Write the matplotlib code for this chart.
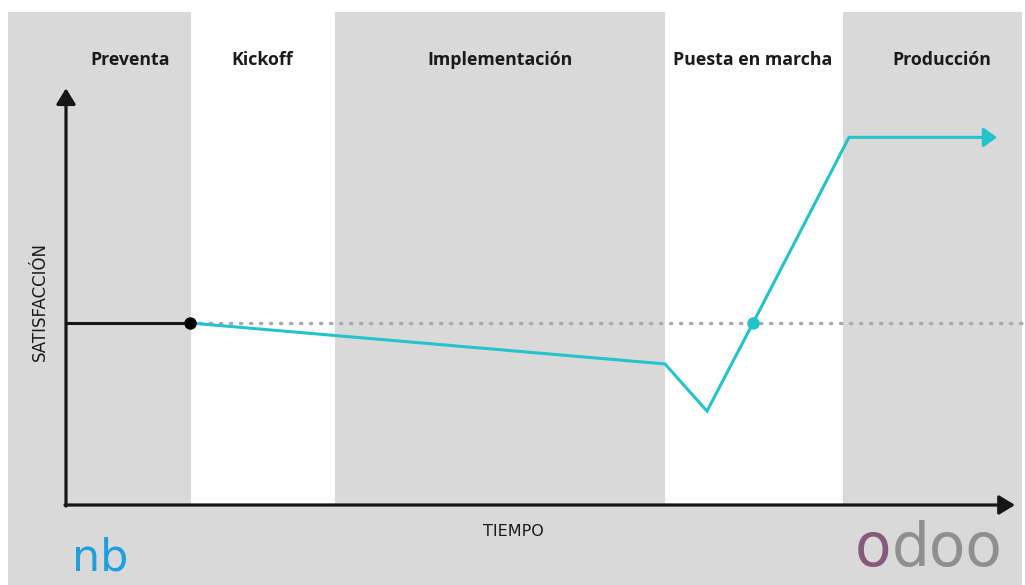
import matplotlib
matplotlib.use("Agg")
import matplotlib.pyplot as plt
from matplotlib.patches import Rectangle

# ---- data ----
phases = ["Preventa", "Kickoff", "Implementación", "Puesta en marcha", "Producción"]
phase_bounds = [-5.8, 12.5, 26.9, 59.9, 77.7, 95.6]
phase_shaded = [True, False, True, False, True]
phase_label_t = [6.4, 19.6, 43.4, 68.7, 87.6]

presale_t = [0, 12.4]
presale_s = [10, 10]

journey_t = [12.4, 59.9, 64.1, 68.7, 78.3, 92.0]
journey_s = [10, 7.75, 5.16, 10, 20.2, 20.2]

baseline_s = 10
crossing_t = 68.7

x_label = "TIEMPO"
y_label = "SATISFACCIÓN"

# ---- style ----
GRAY = "#d9d9d9"
TEAL = "#22c3ca"
AXIS = "#161616"

fig = plt.figure(figsize=(10.25, 5.85), dpi=100)
ax = fig.add_axes([0, 0, 1, 1])
ax.set_xlim(-6.6, 95.9)
ax.set_ylim(-80 / 18.2, 505 / 18.2)
ax.axis("off")

top = 493 / 18.2
bottom = ax.get_ylim()[0]
axis_y = 0.0

# background gray panel
ax.add_patch(Rectangle((phase_bounds[0], bottom), phase_bounds[-1] - phase_bounds[0],
                       top - bottom, facecolor=GRAY, edgecolor="none", zorder=0))
# white phase bands and phase titles
for i, (name, shaded) in enumerate(zip(phases, phase_shaded)):
    x0, x1 = phase_bounds[i], phase_bounds[i + 1]
    if not shaded:
        ax.add_patch(Rectangle((x0, axis_y), x1 - x0, top - axis_y,
                               facecolor="white", edgecolor="none", zorder=1))
    ax.text(phase_label_t[i], 24.45, name, ha="center", va="center",
            fontsize=12.8, fontweight="bold", family=["Open Sans", "DejaVu Sans"],
            color="#1a1a1a", zorder=5)

# dotted baseline
ax.plot([presale_t[-1], phase_bounds[-1]], [baseline_s, baseline_s], color="#a8a8a8",
        lw=2.4, linestyle=(0, (0.4, 2.6)), dash_capstyle="round", zorder=2)

# axes arrows
arrow_axis = dict(arrowstyle="-|>,head_length=0.95,head_width=0.58",
                  color=AXIS, lw=2.3, shrinkA=0, shrinkB=0)
ax.annotate("", xy=(0, 22.9), xytext=(0, axis_y - 0.06), arrowprops=arrow_axis, zorder=4)
ax.annotate("", xy=(94.9, axis_y), xytext=(-0.1, axis_y), arrowprops=arrow_axis, zorder=4)

# presale line
ax.plot(presale_t, presale_s, color=AXIS, lw=2.2, zorder=4, solid_capstyle="butt")
ax.plot([presale_t[-1]], [presale_s[-1]], "o", color="black", ms=8, zorder=6)

# journey line
ax.plot(journey_t, journey_s, color=TEAL, lw=2.2, zorder=5, solid_joinstyle="miter")
ax.annotate("", xy=(journey_t[-1] + 1.1, journey_s[-1]), xytext=(journey_t[-1], journey_s[-1]),
            arrowprops=dict(arrowstyle="-|>,head_length=0.8,head_width=0.58",
                            color=TEAL, lw=2.2, shrinkA=0, shrinkB=0), zorder=5)
ax.plot([crossing_t], [baseline_s], "o", color=TEAL, ms=8, zorder=6)

# axis labels
ax.text(44.7, -1.45, x_label, ha="center", va="center", fontsize=11.5,
        family=["DejaVu Sans"], color="#1a1a1a")
ax.text(-2.6, 11.2, y_label, ha="center", va="center", rotation=90, fontsize=12,
        family=["DejaVu Sans"], color="#1a1a1a")

# logos as text
ax.text(0.55, -3.6, "nb", ha="left", va="baseline", fontsize=32,
        family=["DejaVu Sans"], color="#1f9fdd")
t1 = ax.text(78.9, -3.35, "o", ha="left", va="baseline", fontsize=43,
             family=["DejaVu Sans"], color="#875a7b")
ax.annotate("doo", xy=(1, 0), xycoords=t1, va="bottom", ha="left", fontsize=43,
            family=["DejaVu Sans"], color="#8f8f8f")

fig.savefig("out.png", dpi=100, facecolor="white")
